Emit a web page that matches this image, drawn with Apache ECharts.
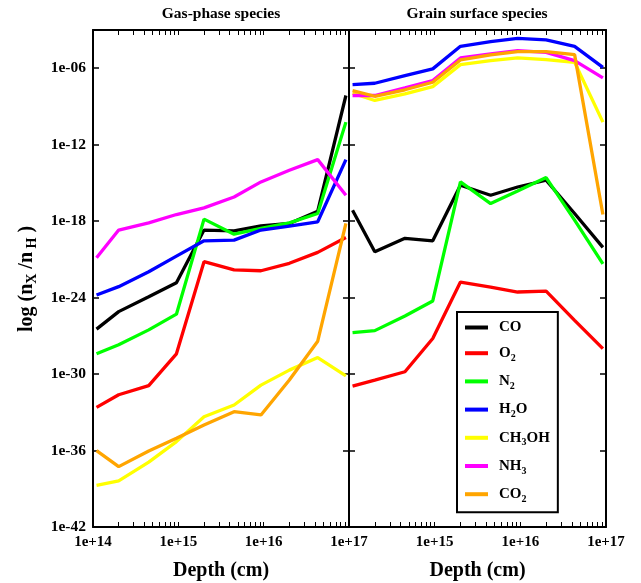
<!DOCTYPE html>
<html>
<head>
<meta charset="utf-8">
<script src="https://cdn.jsdelivr.net/npm/echarts@6/dist/echarts.min.js"></script>
<style>html,body{margin:0;padding:0;background:#fff}#c{width:641px;height:583px}</style>
</head>
<body>
<div id="c"></div>
<script>
// Depth of each model point (cm)
var depthCm = [1.1e14, 2e14, 4.5e14, 9.5e14, 2e15, 4.5e15, 9.3e15, 2e16, 4.3e16, 9.2e16];
// Species names
var species = ['CO', 'O2', 'N2', 'H2O', 'CH3OH', 'NH3', 'CO2'];
var speciesColors = ['#000000', '#ff0000', '#00ff00', '#0000ff', '#ffff00', '#ff00ff', '#ffa500'];
// Gas-phase log10(nX/nH)
var gasCO    = [-26.47, -25.10, -23.93, -22.83, -18.70, -18.76, -18.37, -18.18, -17.22, -8.14];
var gasO2    = [-32.61, -31.62, -30.91, -28.41, -21.18, -21.83, -21.89, -21.31, -20.45, -19.28];
var gasN2    = [-28.41, -27.70, -26.53, -25.30, -17.84, -19.02, -18.57, -18.13, -17.40, -10.23];
var gasH2O   = [-23.79, -23.14, -21.97, -20.74, -19.54, -19.49, -18.70, -18.39, -18.05, -13.17];
var gasCH3OH = [-38.74, -38.38, -36.91, -35.30, -33.35, -32.43, -30.87, -29.69, -28.70, -30.14];
var gasNH3   = [-20.87, -18.70, -18.13, -17.48, -16.96, -16.10, -14.92, -14.01, -13.17, -15.97];
var gasCO2   = [-36.01, -37.26, -36.03, -35.04, -34.00, -32.95, -33.21, -30.47, -27.42, -18.17];
// Grain-surface log10(nX/nH)
var grCO    = [-17.14, -20.40, -19.35, -19.54, -15.18, -15.97, -15.32, -14.79, -17.40, -20.06];
var grO2    = [-30.94, -30.47, -29.82, -27.21, -22.78, -23.17, -23.56, -23.49, -25.78, -28.00];
var grN2    = [-26.74, -26.59, -25.44, -24.26, -14.92, -16.62, -15.63, -14.58, -17.92, -21.36];
var grH2O   = [-7.28, -7.18, -6.58, -6.05, -4.28, -3.92, -3.66, -3.78, -4.28, -5.93];
var grCH3OH = [-7.96, -8.53, -8.01, -7.44, -5.72, -5.40, -5.19, -5.32, -5.53, -10.23];
var grNH3   = [-8.14, -8.14, -7.54, -6.97, -5.19, -4.88, -4.62, -4.75, -5.40, -6.76];
var grCO2   = [-7.75, -8.20, -7.69, -7.10, -5.35, -4.96, -4.70, -4.70, -4.93, -17.48];
// Axis ranges / tick labels (log10 exponents)
var xDecades = [14, 15, 16, 17];
var yMin = -42, yMax = -3, yStep = 6;
var panelTitles = ['Gas-phase species', 'Grain surface species'];
var legendLabels = {
  CO: '{a|CO}', O2: '{a|O}{s|2}', N2: '{a|N}{s|2}', H2O: '{a|H}{s|2}{a|O}',
  CH3OH: '{a|CH}{s|3}{a|OH}', NH3: '{a|NH}{s|3}', CO2: '{a|CO}{s|2}'
};

var gasData = [gasCO, gasO2, gasN2, gasH2O, gasCH3OH, gasNH3, gasCO2];
var grData = [grCO, grO2, grN2, grH2O, grCH3OH, grNH3, grCO2];

var FONT = '"Liberation Serif", "Times New Roman", serif';
var logDepth = depthCm.map(function (d) { return Math.log10(d); });

// minor tick positions (2..9 x decade) in log space
var minorTicks = [];
for (var d = 14; d < 17; d++) {
  minorTicks.push(d);
  for (var k = 2; k <= 9; k++) minorTicks.push(d + Math.log10(k));
}
minorTicks.push(17);

function yFmt(v) {
  if (v > -6) return '';
  var a = Math.abs(Math.round(v));
  return '1e-' + (a < 10 ? '0' : '') + a;
}

var axisLineStyle = { lineStyle: { color: '#000', width: 2 } };
var labelStyle = { fontFamily: FONT, fontWeight: 'bold', fontSize: 15, color: '#000' };

function xAxisDef(gi, pos, showLabels) {
  return {
    type: 'value', gridIndex: gi, position: pos, min: xDecades[0], max: xDecades[xDecades.length - 1], interval: 1,
    axisLine: axisLineStyle,
    axisTick: { show: true, inside: true, length: 5, customValues: minorTicks, lineStyle: { color: '#000', width: 1 } },
    splitLine: { show: false },
    axisLabel: showLabels ? Object.assign({ margin: 8, formatter: function (v) {
      if (gi === 1 && v === xDecades[0]) return '';
      return '1e+' + v;
    } }, labelStyle) : { show: false },
    name: showLabels ? 'Depth (cm)' : '',
    nameLocation: 'middle', nameGap: 34,
    nameTextStyle: { fontFamily: FONT, fontWeight: 'bold', fontSize: 20, color: '#000' }
  };
}
function yAxisDef(gi, pos, showLabels) {
  return {
    type: 'value', gridIndex: gi, position: pos, min: yMin, max: yMax, interval: yStep,
    axisLine: axisLineStyle,
    axisTick: { show: true, inside: true, length: 6, lineStyle: { color: '#000', width: 1.5 } },
    splitLine: { show: false },
    axisLabel: showLabels ? Object.assign({ margin: 7, formatter: yFmt }, labelStyle, { fontSize: 15.5 }) : { show: false }
  };
}

var series = [];
species.forEach(function (name, i) {
  [gasData, grData].forEach(function (arr, gi) {
    series.push({
      name: name, type: 'line', xAxisIndex: gi * 2, yAxisIndex: gi * 2,
      data: arr[i].map(function (v, j) { return [logDepth[j], v]; }),
      showSymbol: false, symbol: 'none', animation: false,
      lineStyle: { color: speciesColors[i], width: 3.3 },
      itemStyle: { color: speciesColors[i] }
    });
  });
});

var option = {
  animation: false,
  backgroundColor: '#fff',
  grid: [
    { left: 93, top: 30, width: 256, height: 497, outerBoundsMode: 'none', containLabel: false },
    { left: 349, top: 30, width: 257, height: 497, outerBoundsMode: 'none', containLabel: false }
  ],
  xAxis: [xAxisDef(0, 'bottom', true), xAxisDef(0, 'top', false), xAxisDef(1, 'bottom', true), xAxisDef(1, 'top', false)],
  yAxis: [yAxisDef(0, 'left', true), yAxisDef(0, 'right', false), yAxisDef(1, 'left', false), yAxisDef(1, 'right', false)],
  legend: {
    data: species, orient: 'vertical', left: 457, top: 312,
    icon: 'rect', itemWidth: 23, itemHeight: 4, itemGap: 10.7,
    padding: [8, 8, 8, 8],
    borderColor: '#000', borderWidth: 2, backgroundColor: '#fff',
    formatter: function (n) { return legendLabels[n]; },
    textStyle: {
      fontFamily: FONT, fontWeight: 'bold', fontSize: 15, color: '#000', padding: [0, 0, 0, 6],
      rich: {
        a: { fontFamily: FONT, fontWeight: 'bold', fontSize: 15, lineHeight: 20, color: '#000' },
        s: { fontFamily: FONT, fontWeight: 'bold', fontSize: 10, lineHeight: 10, verticalAlign: 'bottom', color: '#000' }
      }
    },
    selectedMode: false
  },
  graphic: [
    { type: 'text', x: 221, y: 14, style: { text: panelTitles[0], font: 'bold 15.5px ' + FONT, fill: '#000', align: 'center', verticalAlign: 'middle' } },
    { type: 'text', x: 477, y: 14, style: { text: panelTitles[1], font: 'bold 15.5px ' + FONT, fill: '#000', align: 'center', verticalAlign: 'middle' } },
    { type: 'text', x: 27, y: 279, rotation: Math.PI / 2,
      style: { text: '{a|log (n}{s|X}{a| /n}{s| H}{a| )}', fill: '#000', align: 'center', verticalAlign: 'middle',
        font: 'bold 20px ' + FONT,
        rich: {
          a: { fontFamily: FONT, fontWeight: 'bold', fontSize: 20, lineHeight: 24, fill: '#000', color: '#000' },
          s: { fontFamily: FONT, fontWeight: 'bold', fontSize: 14, lineHeight: 12, verticalAlign: 'bottom', fill: '#000', color: '#000' }
        } } }
  ],
  series: series
};
var chart = echarts.init(document.getElementById('c'), null, { renderer: 'canvas' });
chart.setOption(option);
</script>
</body>
</html>
